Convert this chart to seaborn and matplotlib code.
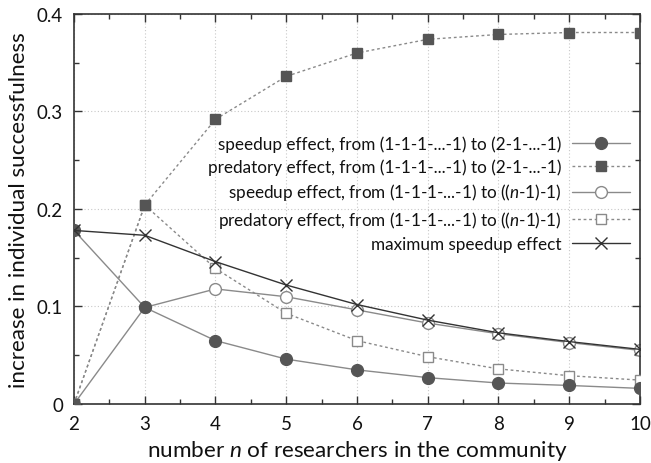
import matplotlib
matplotlib.use("Agg")
import matplotlib.pyplot as plt
import seaborn as sns
import pandas as pd
from matplotlib.ticker import MultipleLocator

n_values = [2, 3, 4, 5, 6, 7, 8, 9, 10]
speedup_21 = [0.178, 0.099, 0.065, 0.046, 0.035, 0.027, 0.0215, 0.019, 0.016]
predatory_21 = [0.0, 0.204, 0.292, 0.336, 0.360, 0.374, 0.379, 0.381, 0.381]
speedup_n1 = [0.0, 0.099, 0.118, 0.110, 0.0965, 0.083, 0.072, 0.063, 0.055]
predatory_n1 = [0.0, 0.204, 0.139, 0.093, 0.065, 0.0485, 0.036, 0.029, 0.0245]
max_speedup = [0.178, 0.173, 0.146, 0.122, 0.102, 0.086, 0.073, 0.064, 0.056]

labels = [
    "speedup effect, from (1-1-1-...-1) to (2-1-...-1)",
    "predatory effect, from (1-1-1-...-1) to (2-1-...-1)",
    "speedup effect, from (1-1-1-...-1) to (($n$-1)-1)",
    "predatory effect, from (1-1-1-...-1) to (($n$-1)-1)",
    "maximum speedup effect",
]
xlabel = "number $n$ of researchers in the community"
ylabel = "increase in individual successfulness"
yticks = [0, 0.1, 0.2, 0.3, 0.4]
yticklabels = ["0", "0.1", "0.2", "0.3", "0.4"]

sns.set_style("ticks")
plt.rcParams["font.family"] = ["Lato", "DejaVu Sans"]
plt.rcParams["mathtext.fontset"] = "custom"
plt.rcParams["mathtext.it"] = "Lato:italic"
plt.rcParams["mathtext.rm"] = "Lato"
plt.rcParams["text.color"] = "#111111"
plt.rcParams["axes.labelcolor"] = "#111111"
plt.rcParams["xtick.labelcolor"] = "#111111"
plt.rcParams["ytick.labelcolor"] = "#111111"

fig = plt.figure(figsize=(6.51, 4.64), dpi=100)
ax = fig.add_axes([0.1137, 0.1272, 0.983 - 0.1137, 0.9677 - 0.1272])

series = [speedup_21, predatory_21, speedup_n1, predatory_n1, max_speedup]
styles = [
    dict(color="#8a8a8a", ls="-", marker="o", ms=8.5, mfc="#555555", mec="#555555", z=4),
    dict(color="#8a8a8a", ls=(0, (2, 2)), marker="s", ms=7.5, mfc="#555555", mec="#555555", z=5),
    dict(color="#8a8a8a", ls="-", marker="o", ms=8.5, mfc="white", mec="#8a8a8a", z=2),
    dict(color="#8a8a8a", ls=(0, (2, 2)), marker="s", ms=7.5, mfc="white", mec="#8a8a8a", z=3),
    dict(color="#333333", ls="-", marker="x", ms=9, mfc="#333333", mec="#333333", z=6),
]

for vals, lab, st in zip(series, labels, styles):
    df = pd.DataFrame({"n": n_values, "v": vals})
    sns.lineplot(data=df, x="n", y="v", ax=ax, color=st["color"], label=lab,
                 marker=st["marker"], markersize=st["ms"], markerfacecolor=st["mfc"],
                 markeredgecolor=st["mec"], markeredgewidth=1.0, linewidth=1.0,
                 linestyle=st["ls"], zorder=st["z"])
for line, st in zip(ax.get_lines(), styles):
    line.set_linestyle(st["ls"])

ax.set_xlim(2, 10)
ax.set_ylim(0, 0.4)
ax.xaxis.set_major_locator(MultipleLocator(1))
ax.xaxis.set_minor_locator(MultipleLocator(0.5))
ax.set_yticks(yticks)
ax.set_yticklabels(yticklabels)
ax.yaxis.set_minor_locator(MultipleLocator(0.05))
ax.tick_params(which="both", direction="in", top=True, right=True, labelsize=13.5, color="#333333")
ax.tick_params(axis="x", pad=8)
ax.tick_params(axis="y", pad=8)
ax.tick_params(which="major", length=6, width=1)
ax.tick_params(which="minor", length=3.5, width=1)
for s in ax.spines.values():
    s.set_color("#333333")
    s.set_linewidth(1.2)
ax.grid(True, which="major", color="#c8c8c8", linestyle=(0, (1, 2)), linewidth=0.8)
ax.set_axisbelow(True)

ax.set_xlabel(xlabel, fontsize=16.2, labelpad=4)
ax.set_ylabel(ylabel, fontsize=16.2)
ax.yaxis.set_label_coords(-0.08, 0.5)

leg = ax.legend(loc="upper right", bbox_to_anchor=(1.0, 0.715), frameon=False, markerfirst=False,
                fontsize=12.3, handlelength=3.4, labelspacing=0.38, borderaxespad=0.2, handletextpad=0.6)

fig.savefig("out.png", dpi=100)
